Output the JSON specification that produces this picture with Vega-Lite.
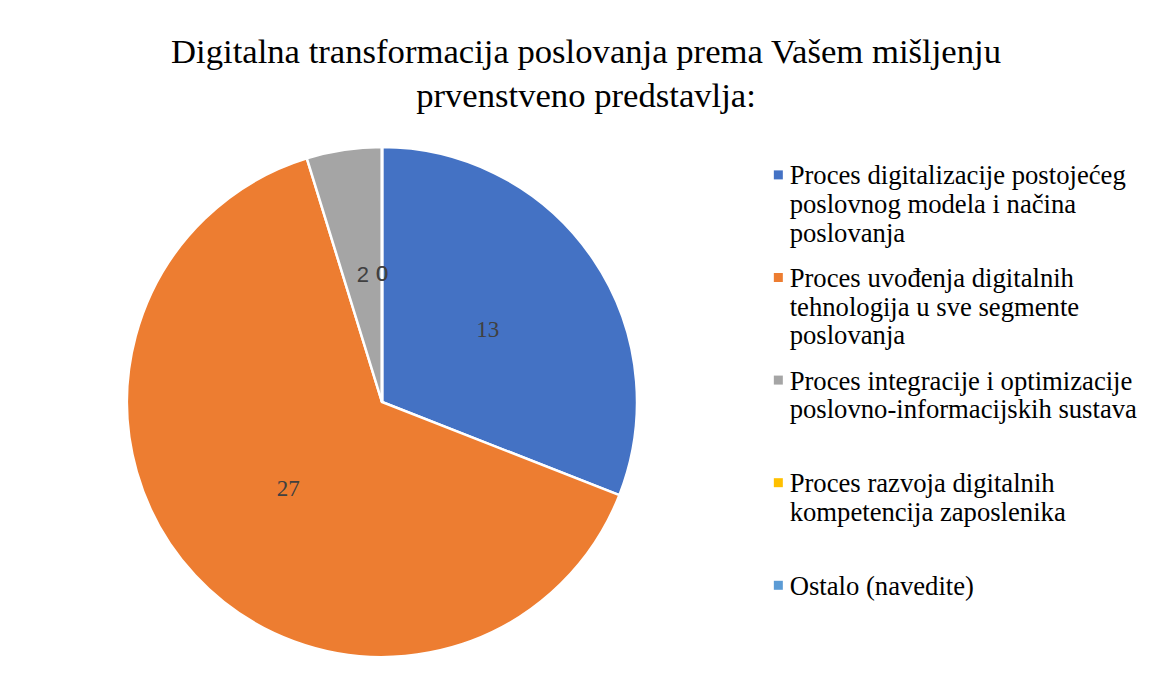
{
  "$schema": "https://vega.github.io/schema/vega-lite/v6.json",
  "autosize": {"type": "none"},
  "width": 764,
  "height": 510,
  "padding": {"top": 147, "left": 0, "right": 388, "bottom": 24},
  "background": "white",
  "title": {
    "text": ["Digitalna transformacija poslovanja prema Vašem mišljenju", "prvenstveno predstavlja:"],
    "anchor": "middle",
    "align": "center",
    "dx": 204,
    "offset": 27,
    "lineHeight": 44
  },
  "data": {
    "values": [
      {"kategorija": "Proces digitalizacije postojećeg poslovnog modela i načina poslovanja", "broj": 13, "redoslijed": 1},
      {"kategorija": "Proces uvođenja digitalnih tehnologija u sve segmente poslovanja", "broj": 27, "redoslijed": 2},
      {"kategorija": "Proces integracije i optimizacije poslovno-informacijskih sustava", "broj": 2, "redoslijed": 3},
      {"kategorija": "Proces razvoja digitalnih kompetencija zaposlenika", "broj": 0, "redoslijed": 4},
      {"kategorija": "Ostalo (navedite)", "broj": 0, "redoslijed": 5}
    ]
  },
  "encoding": {
    "theta": {"field": "broj", "type": "quantitative", "stack": true},
    "order": {"field": "redoslijed", "type": "quantitative"},
    "color": {
      "field": "kategorija",
      "type": "nominal",
      "scale": {
        "domain": [
          "Proces digitalizacije postojećeg poslovnog modela i načina poslovanja",
          "Proces uvođenja digitalnih tehnologija u sve segmente poslovanja",
          "Proces integracije i optimizacije poslovno-informacijskih sustava",
          "Proces razvoja digitalnih kompetencija zaposlenika",
          "Ostalo (navedite)"
        ],
        "range": ["#4472C4", "#ED7D31", "#A5A5A5", "#FFC000", "#5B9BD5"]
      },
      "legend": {
        "title": null,
        "orient": "none",
        "legendX": 765,
        "legendY": 24,
        "symbolType": "M-1,-3.1H1V-1.1H-1Z",
        "symbolSize": 81,
        "symbolStrokeWidth": 0,
        "labelFont": "Liberation Serif",
        "labelFontSize": 26.67,
        "labelColor": "#000000",
        "labelOffset": -2,
        "labelLimit": 420,
        "labelBaseline": "alphabetic",
        "rowPadding": 17.6,
        "encode": {
          "labels": {"update": {"lineHeight": {"value": 30.7}}}
        },
        "labelExpr": "datum.label == 'Proces digitalizacije postojećeg poslovnog modela i načina poslovanja' ? ['Proces digitalizacije postojećeg', 'poslovnog modela i načina', 'poslovanja'] : datum.label == 'Proces uvođenja digitalnih tehnologija u sve segmente poslovanja' ? ['Proces uvođenja digitalnih', 'tehnologija u sve segmente', 'poslovanja'] : datum.label == 'Proces integracije i optimizacije poslovno-informacijskih sustava' ? ['Proces integracije i optimizacije', 'poslovno-informacijskih sustava', ' '] : datum.label == 'Proces razvoja digitalnih kompetencija zaposlenika' ? ['Proces razvoja digitalnih', 'kompetencija zaposlenika', ' '] : ['Ostalo (navedite)', ' ', ' ']"
      }
    }
  },
  "layer": [
    {
      "mark": {"type": "arc", "outerRadius": 255, "stroke": "#FFFFFF", "strokeWidth": 2.5}
    },
    {
      "mark": {"type": "text", "radius": 128, "font": "Liberation Serif", "fontSize": 23},
      "encoding": {
        "text": {"condition": {"test": "datum.broj >= 10", "field": "broj", "type": "quantitative"}, "value": ""},
        "color": {"value": "#404040"}
      }
    },
    {
      "mark": {"type": "text", "radius": 128, "font": "Liberation Sans", "fontSize": 22},
      "encoding": {
        "text": {"condition": {"test": "datum.broj < 10", "field": "broj", "type": "quantitative"}, "value": ""},
        "color": {"value": "#404040"}
      }
    }
  ],
  "config": {
    "view": {"stroke": null},
    "title": {"font": "Liberation Serif", "fontSize": 34.67, "fontWeight": "normal", "color": "#000000"}
  }
}
